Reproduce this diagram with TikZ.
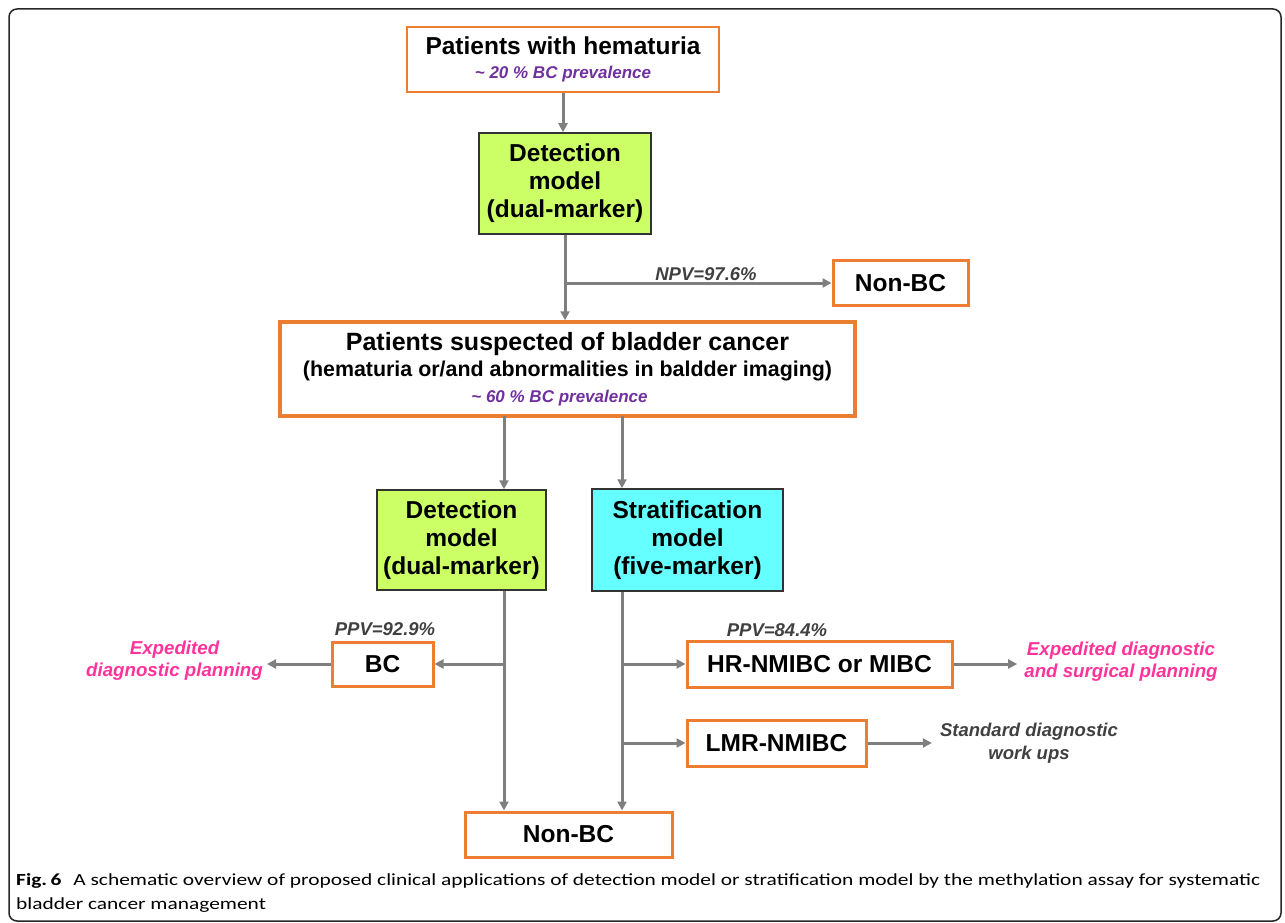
\documentclass[tikz,border=0pt]{standalone}
\usepackage{fontspec}
\usepackage{graphicx}
\setmainfont{Liberation Sans}
\newfontfamily\capfont{Carlito}
\usepackage{tikz}
\usetikzlibrary{arrows.meta}
\definecolor{boxorange}{HTML}{ED7D31}
\definecolor{detgreen}{HTML}{CCFF66}
\definecolor{stratcyan}{HTML}{66FFFF}
\definecolor{arrowgray}{HTML}{7F7F7F}
\definecolor{prevalence}{HTML}{7030A0}
\definecolor{hotpink}{HTML}{FF3399}
\definecolor{note}{HTML}{404040}
\newcommand{\fsz}[2]{\fontsize{#1}{#2}\selectfont}
\tikzset{flow/.style={draw=arrowgray, line width=3pt, -{Triangle[length=9pt,width=9pt]}}}
\tikzset{outcome/.style={draw=boxorange, line width=3pt, fill=white, font=\bfseries\fsz{24.5}{28}}}
\tikzset{model/.style={draw=black!80, line width=1.5pt, font=\bfseries\fsz{24.5}{28}}}
\tikzset{value/.style={text=note, font=\bfseries\itshape\fsz{18.5}{23}}}
\tikzset{action/.style={text=hotpink, font=\bfseries\itshape\fsz{18.7}{22}}}
\newsavebox{\capline}

\begin{document}
\sbox{\capline}{\capfont\fsz{17}{24}\textbf{Fig.\,6}\hspace{0.55em}A schematic overview of proposed clinical applications of detection model or stratification model by the methylation assay for systematic}%
\pgfmathsetmacro{\capscale}{1244/\the\wd\capline}%
\begin{tikzpicture}[x=1pt,y=-1pt]
	% Default action for each node
	\tikzstyle{every node}=[font=\bfseries, align=center, inner sep=0pt];

	% Page frame
	\useasboundingbox (0,0) rectangle (1285,923);
	\draw[line width=1.5pt, rounded corners=8pt, black!85] (9,9) rectangle (1281,921);

	% Boxes
	\node[outcome, line width=2.5pt, minimum width=312pt, minimum height=65pt, font=\bfseries\fsz{24.5}{24}] (hematuria) at (563,59.5) {Patients with hematuria\\ {\fsz{17}{17}\itshape\color{prevalence}\textasciitilde{} 20 \% BC prevalence}};
	\node[model, fill=detgreen, minimum width=172pt, minimum height=101pt] (detect1) at (565,183.5) {Detection\\model\\(dual-marker)};
	\node[outcome, minimum width=135pt, minimum height=45pt] (nonbc1) at (900.5,283) {Non-BC};
	\node[outcome, line width=3.5pt, minimum width=575pt, minimum height=94pt, font=\bfseries\fsz{25}{26}] (suspected) at (567.5,369) {Patients suspected of bladder cancer\\ {\fsz{21.4}{22}(hematuria or/and abnormalities in baldder imaging)}\\ {\fsz{17}{17}\itshape\color{prevalence}\textasciitilde{} 60 \% BC prevalence\hspace*{16pt}}};
	\node[model, fill=detgreen, minimum width=169pt, minimum height=100pt] (detect2) at (461.5,540) {Detection\\model\\(dual-marker)};
	\node[model, fill=stratcyan, minimum width=191pt, minimum height=102pt] (strat) at (687.5,540) {Stratification\\model\\(five-marker)};
	\node[outcome, minimum width=101pt, minimum height=44pt] (bc) at (382.5,664) {BC};
	\node[outcome, minimum width=265pt, minimum height=46pt] (highrisk) at (819.5,664) {HR-NMIBC or MIBC};
	\node[outcome, minimum width=179pt, minimum height=46pt] (lowrisk) at (776.5,743) {LMR-NMIBC};
	\node[outcome, minimum width=207pt, minimum height=45pt] (nonbc2) at (568.5,834.5) {Non-BC};

	% Labels
	\node[value] (npv) at (706,274) {NPV=97.6\%};
	\node[value] (ppvbc) at (385,629) {PPV=92.9\%};
	\node[value] (ppvhr) at (777,630) {PPV=84.4\%};
	\node[action] (planL) at (174.5,661) {Expedited\\diagnostic planning};
	\node[action] (planR) at (1121,661.5) {Expedited diagnostic\\and surgical planning};
	\node[value] (workup) at (1029,743.5) {Standard diagnostic\\work ups};

	\coordinate (npvsplit) at (565,283);
	\coordinate (dropL) at (504,416);	\coordinate (dropR) at (622,416);
	\coordinate (bcsplit) at (504,664);	\coordinate (hrsplit) at (622,664);
										\coordinate (lmrsplit) at (622,743);

	% Verticals
	\draw[flow] (hematuria.south) -- (hematuria.south |- detect1.north);
	\draw[flow] (detect1.south) -- (detect1.south |- suspected.north);
	\draw[flow] (dropL) -- (dropL |- detect2.north);
	\draw[flow] (dropR) -- (dropR |- strat.north);
	\draw[flow] (dropL |- detect2.south) -- (dropL |- nonbc2.north);
	\draw[flow] (dropR |- strat.south) -- (dropR |- nonbc2.north);

	% Horizontals
	\draw[flow] (npvsplit) -- (nonbc1);
	\draw[flow] (bcsplit) -- (bc);
	\draw[flow, shorten >=4pt] (bc.west) -- (bc.west -| planL.east);
	\draw[flow] (hrsplit) -- (highrisk);
	\draw[flow, shorten >=7pt] (highrisk.east) -- (highrisk.east -| planR.west);
	\draw[flow] (lmrsplit) -- (lowrisk);
	\draw[flow, shorten >=8pt] (lowrisk.east) -- (lowrisk.east -| workup.west);

	% Caption
	\node[anchor=west, align=left, font=\capfont\fsz{17}{24}] (caption) at (16,893) {\scalebox{\capscale}[1]{\usebox{\capline}}\\ \scalebox{\capscale}[1]{bladder cancer management}};
\end{tikzpicture}
\end{document}
